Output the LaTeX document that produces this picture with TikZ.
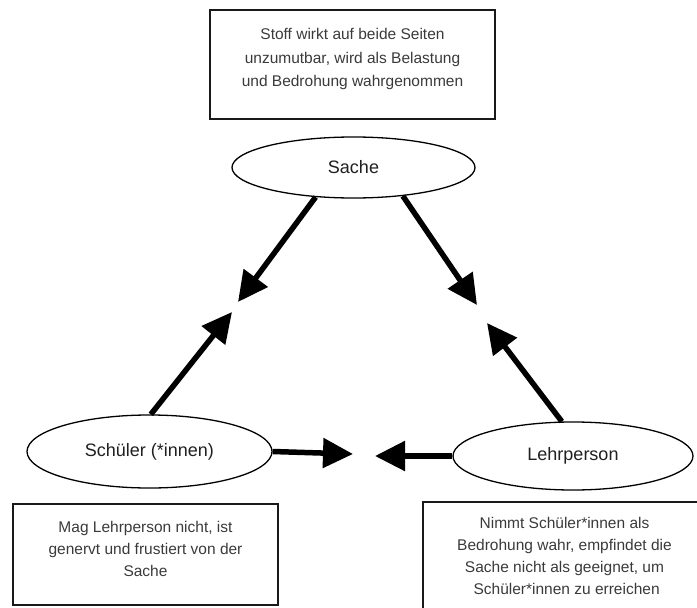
\documentclass[tikz,border=0pt]{standalone}
\usepackage{fontspec}
\setmainfont{Liberation Sans}
\usetikzlibrary{shapes.geometric,arrows.meta}
\definecolor{boxtext}{HTML}{3A3A3A}
\definecolor{ovaltext}{HTML}{202020}
\tikzset{
  infobox/.style={draw=black!90, line width=1.4pt, rectangle, inner sep=0pt},
  boxtxt/.style={text=boxtext, align=center, inner sep=0pt, font=\fontsize{15.5}{22}\selectfont},
  oval/.style={draw=black, line width=1.3pt, ellipse, inner sep=0pt, fill=white,
    text=ovaltext, font=\fontsize{18}{20}\selectfont},
  bigarrow/.style={line width=5.5pt, -{Triangle[length=30pt,width=29pt]}}
}
\begin{document}
\begin{tikzpicture}[x=1pt,y=-1pt]
\useasboundingbox (0,0) rectangle (697,608);
\clip (0,0) rectangle (697,608);

% info boxes
\node[infobox, minimum width=285pt, minimum height=109pt,
  label={[boxtxt, font=\fontsize{15.5}{23.5}\selectfont, yshift=5.5pt]center:{Stoff wirkt auf beide Seiten\\unzumutbar, wird als Belastung\\und Bedrohung wahrgenommen}}]
  (topbox) at (352.5,64.5) {};
\node[infobox, minimum width=265pt, minimum height=101pt,
  label={[boxtxt, yshift=6pt]center:{Mag Lehrperson nicht, ist\\genervt und frustiert von der\\Sache}}]
  (sbox) at (145.5,554.5) {};
\node[infobox, minimum width=283pt, minimum height=119pt,
  label={[boxtxt, yshift=6pt]center:{Nimmt Schüler*innen als\\Bedrohung wahr, empfindet die\\Sache nicht als geeignet, um\\\ Schüler*innen zu erreichen}}]
  (lbox) at (564.5,561.5) {};

% ovals
\node[oval, minimum width=243pt, minimum height=61pt] (sache) at (353.5,167.5) {Sache};
\node[oval, minimum width=245pt, minimum height=73pt] (schueler) at (149.5,451.5) {\raisebox{1.5pt}{Schüler (*innen)}};
\node[oval, minimum width=240pt, minimum height=68pt] (lehr) at (573,456) {\raisebox{1.5pt}{Lehrperson}};

% arrow tips
\coordinate (t1) at (238,302);
\coordinate (t2) at (477,305);
\coordinate (t3) at (232,312);
\coordinate (t4) at (487,323);
\coordinate (t5) at (353,454);
\coordinate (t6) at (375,456);

\draw[bigarrow] (sache.218.6) -- (t1);
\draw[bigarrow] (sache.330.6) -- (t2);
\draw[bigarrow] (schueler.88) -- (t3);
\draw[bigarrow] (lehr.108) -- (t4);
\draw[bigarrow] (schueler.east) -- (t5);
\draw[bigarrow] (lehr.west) -- (t6);
\end{tikzpicture}
\end{document}
